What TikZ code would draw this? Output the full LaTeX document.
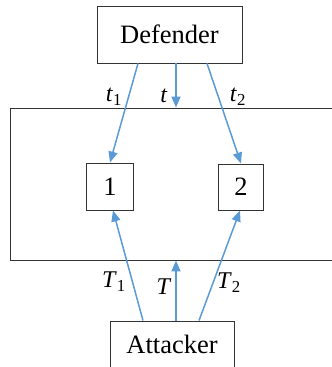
\documentclass[tikz,border=0pt]{standalone}
\usepackage{fontspec}
\setmainfont{Liberation Serif}
\usetikzlibrary{arrows.meta}
\definecolor{arrowblue}{HTML}{5B9BD5}
\definecolor{boxgray}{HTML}{333333}
\tikzset{
  box/.style={draw=boxgray, line width=0.9pt, inner sep=0pt, font=\fontsize{26.5}{26.5}\selectfont},
  arr/.style={draw=arrowblue, line width=1.5pt, -{Triangle[length=11pt,width=9pt]}},
  lab/.style={inner sep=0pt, font=\fontsize{24}{24}\selectfont}
}
\begin{document}
\begin{tikzpicture}[x=1pt,y=1pt]
\useasboundingbox (0,0) rectangle (332,367);
\begin{scope}
\clip (0,0) rectangle (332,367);
\node[box, minimum width=332pt, minimum height=152pt] (frame) at (176,183) {};
\end{scope}
\node[box, minimum width=145pt, minimum height=57pt] (def) at (169.5,332.5) {Defender};
\node[box, minimum width=47pt, minimum height=47pt] (b1) at (110,180.5) {1};
\node[box, minimum width=45pt, minimum height=46pt] (b2) at (241,180) {2};
\node[box, minimum width=124pt, minimum height=46pt] (att) at (172,23) {Attacker};
\draw[arr] ([xshift=-31.5pt]def.south) -- (b1.north);
\draw[arr] ([xshift=6.5pt]def.south) -- (frame.north);
\draw[arr] ([xshift=37.5pt]def.south) -- (b2.north);
\draw[arr] ([xshift=-29pt]att.north) -- ([xshift=3pt]b1.south);
\draw[arr] ([xshift=4pt]att.north) -- (frame.south);
\draw[arr] ([xshift=27pt]att.north) -- ([xshift=-1pt]b2.south);
\node[lab] (lt1) at (114,270) {\textit{t}\textsubscript{1}};
\node[lab] (lt) at (164,271) {\textit{t}};
\node[lab] (lt2) at (238,270) {\textit{t}\textsubscript{2}};
\node[lab] (lT1) at (114,85) {\textit{T}\textsubscript{1}};
\node[lab] (lT) at (164,80) {\textit{T}};
\node[lab] (lT2) at (229,84) {\textit{T}\textsubscript{2}};
\end{tikzpicture}
\end{document}
